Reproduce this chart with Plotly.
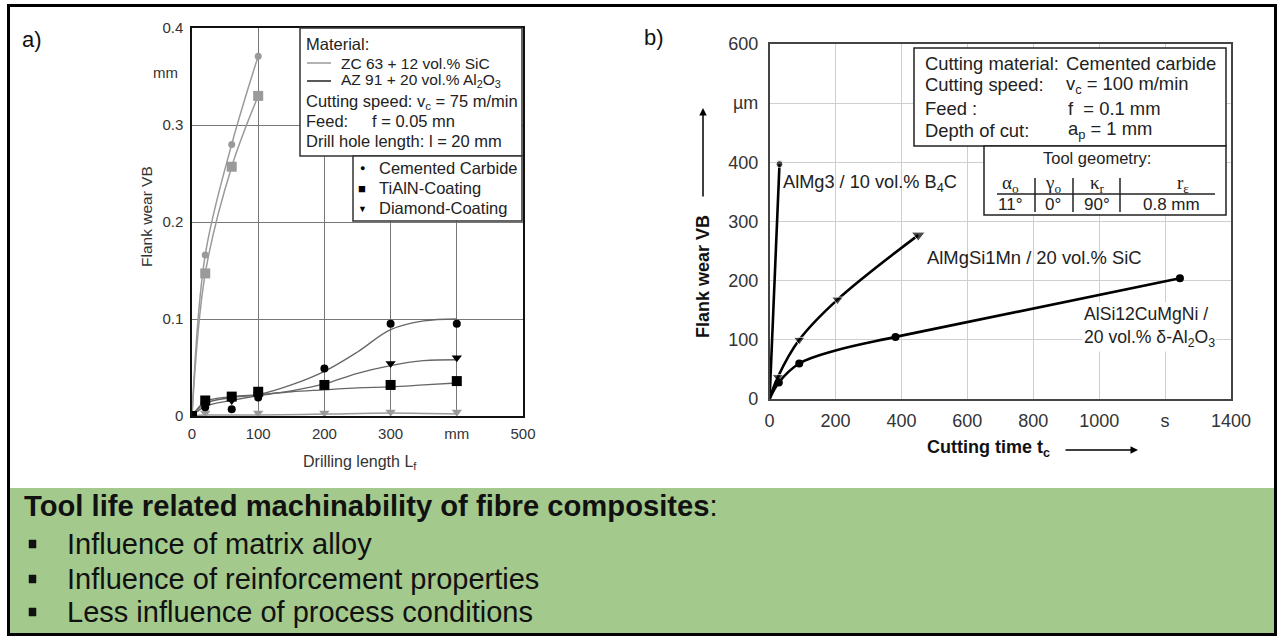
import plotly.graph_objects as go

# ---------------- data: chart a) drilling ----------------
# ZC 63 + 12 vol.% SiC (grey)
zc_x = [0, 20, 60, 100]
zc_cc_y = [0, 0.166, 0.280, 0.371]
zc_tialn_y = [0, 0.147, 0.257, 0.330]
zc_diam_x = [20, 100, 200, 300, 400]
zc_diam_y = [0.003, 0.003, 0.003, 0.004, 0.004]
zc_diam_fit_x = [0, 20, 100, 200, 300, 400]
zc_diam_fit_y = [0, 0.001, 0.001, 0.002, 0.003, 0.002]

# AZ 91 + 20 vol.% Al2O3 (black) measured points
az_x = [0, 20, 60, 100, 200, 300, 400]
az_cc_y = [0, 0.009, 0.007, 0.019, 0.049, 0.095, 0.095]
az_tialn_y = [0, 0.016, 0.020, 0.025, 0.032, 0.032, 0.036]
az_diam_x = [0, 20, 60, 100, 300, 400]
az_diam_y = [0, 0.012, 0.016, 0.022, 0.054, 0.060]
# smoothed curves
fit_x = [0, 20, 60, 100, 150, 200, 250, 300, 350, 400]
az_cc_fit = [0, 0.013, 0.019, 0.022, 0.032, 0.046, 0.066, 0.089, 0.098, 0.100]
az_diam_fit = [0, 0.010, 0.016, 0.021, 0.026, 0.033, 0.044, 0.052, 0.057, 0.058]
az_tialn_fit = [0, 0.015, 0.020, 0.022, 0.025, 0.027, 0.029, 0.030, 0.032, 0.034]

a_xticks = [0, 100, 200, 300, 400, 500]
a_xticktext = ["0", "100", "200", "300", "mm", "500"]
a_yticks = [0, 0.1, 0.2, 0.3, 0.4]
a_yticktext = ["0", "0.1", "0.2", "0.3", "0.4"]

# ---------------- data: chart b) turning ----------------
b4c_t = [0, 30]
b4c_vb = [0, 397]
sic_t = [0, 25, 90, 206, 451]
sic_vb = [0, 37, 100, 168, 277]
al2o3_t = [0, 28, 90, 200, 382, 1245]
al2o3_vb = [0, 28, 60, 82, 105, 204]
al2o3_mark_t = [28, 90, 382, 1245]
al2o3_mark_vb = [28, 60, 105, 204]

b_xticks = [0, 200, 400, 600, 800, 1000, 1200, 1400]
b_xticktext = ["0", "200", "400", "600", "800", "1000", "s", "1400"]
b_yticks = [0, 100, 200, 300, 400, 500, 600]
b_yticktext = ["0", "100", "200", "300", "400", "µm", "600"]

W, H = 1279, 638


def px(x):
    return x / W


def py(y):
    return 1 - y / H


FONT = "Liberation Sans, Arial, sans-serif"
SERIF = "Liberation Serif, Times New Roman, serif"
GREY = "#9a9a9a"

fig = go.Figure()

# chart a traces
fig.add_trace(go.Scatter(x=zc_x, y=zc_cc_y, mode="lines+markers", line=dict(color=GREY, width=1.5, shape="spline"),
                         marker=dict(symbol="circle", size=7, color=GREY), xaxis="x", yaxis="y"))
fig.add_trace(go.Scatter(x=zc_x, y=zc_tialn_y, mode="lines+markers", line=dict(color=GREY, width=1.5, shape="spline"),
                         marker=dict(symbol="square", size=10, color=GREY), xaxis="x", yaxis="y"))
fig.add_trace(go.Scatter(x=zc_diam_fit_x, y=zc_diam_fit_y, mode="lines", line=dict(color=GREY, width=1.5, shape="spline"),
                         xaxis="x", yaxis="y"))
fig.add_trace(go.Scatter(x=zc_diam_x, y=zc_diam_y, mode="markers",
                         marker=dict(symbol="triangle-down", size=9, color=GREY), xaxis="x", yaxis="y"))

for fy in (az_cc_fit, az_diam_fit, az_tialn_fit):
    fig.add_trace(go.Scatter(x=fit_x, y=fy, mode="lines", line=dict(color="#666", width=1.3, shape="spline"),
                             xaxis="x", yaxis="y"))
fig.add_trace(go.Scatter(x=az_x, y=az_cc_y, mode="markers", marker=dict(symbol="circle", size=8, color="black"),
                         xaxis="x", yaxis="y"))
fig.add_trace(go.Scatter(x=az_x, y=az_tialn_y, mode="markers", marker=dict(symbol="square", size=10, color="black"),
                         xaxis="x", yaxis="y"))
fig.add_trace(go.Scatter(x=az_diam_x, y=az_diam_y, mode="markers",
                         marker=dict(symbol="triangle-down", size=9, color="black"), xaxis="x", yaxis="y"))

# chart b traces
fig.add_trace(go.Scatter(x=b4c_t, y=b4c_vb, mode="lines+markers", line=dict(color="black", width=2.6),
                         marker=dict(symbol="circle", size=[0, 7], color="black"), xaxis="x2", yaxis="y2"))
fig.add_trace(go.Scatter(x=sic_t, y=sic_vb, mode="lines+markers", line=dict(color="black", width=2.6, shape="spline"),
                         marker=dict(symbol="triangle-down", size=[0, 10, 10, 10, 12], color="black"),
                         xaxis="x2", yaxis="y2"))
fig.add_trace(go.Scatter(x=al2o3_t, y=al2o3_vb, mode="lines", line=dict(color="black", width=2.6, shape="spline"),
                         xaxis="x2", yaxis="y2"))
fig.add_trace(go.Scatter(x=al2o3_mark_t, y=al2o3_mark_vb, mode="markers",
                         marker=dict(symbol="circle", size=8, color="black"), xaxis="x2", yaxis="y2"))

ax_common = dict(showline=True, mirror=True, ticks="", zeroline=False, showgrid=True, automargin=False)

fig.update_layout(
    template="none",
    width=W, height=H, margin=dict(l=0, r=0, t=0, b=0, pad=0, autoexpand=False),
    paper_bgcolor="white", plot_bgcolor="white", showlegend=False,
    font=dict(family=FONT, color="#222"),
    xaxis=dict(domain=[px(192), px(523)], range=[0, 500], tickvals=a_xticks, ticktext=a_xticktext,
               linecolor="#111", linewidth=1.5, gridcolor="#777", gridwidth=1,
               tickfont=dict(size=15, color="#333"), ticklabelstandoff=3, anchor="y", **ax_common),
    yaxis=dict(domain=[py(416), py(28)], range=[0, 0.4], tickvals=a_yticks, ticktext=a_yticktext,
               linecolor="#111", linewidth=1.5, gridcolor="#777", gridwidth=1,
               tickfont=dict(size=15, color="#333"), ticklabelstandoff=4, anchor="x", **ax_common),
    xaxis2=dict(domain=[px(769.6), px(1231)], range=[0, 1400], tickvals=b_xticks, ticktext=b_xticktext,
                linecolor="#444", linewidth=1.5, gridcolor="#cfcfcf", gridwidth=1,
                tickfont=dict(size=18, color="#333"), ticklabelstandoff=5, anchor="y2", **ax_common),
    yaxis2=dict(domain=[py(399), py(44)], range=[0, 600], tickvals=b_yticks, ticktext=b_yticktext,
                linecolor="#444", linewidth=1.5, gridcolor="#cfcfcf", gridwidth=1,
                tickfont=dict(size=18, color="#333"), ticklabelstandoff=6, anchor="x2", **ax_common),
)

shapes = []
ann = []


def A(text, x, y, size, xanchor="left", yanchor="middle", color="#222", family=FONT, **kw):
    ann.append(dict(text=text, x=px(x), y=py(y), xref="paper", yref="paper", xanchor=xanchor, yanchor=yanchor,
                    showarrow=False, font=dict(size=size, color=color, family=family), **kw))


def rect(x0, y0, x1, y1, line="black", width=1.5, fill="white", layer="above"):
    shapes.append(dict(type="rect", xref="paper", yref="paper", x0=px(x0), x1=px(x1), y0=py(y0), y1=py(y1),
                       line=dict(color=line, width=width), fillcolor=fill, layer=layer))


def seg(x0, y0, x1, y1, color="black", width=1.5):
    shapes.append(dict(type="line", xref="paper", yref="paper", x0=px(x0), x1=px(x1), y0=py(y0), y1=py(y1),
                       line=dict(color=color, width=width), layer="above"))


# green panel and outer frame
rect(9.5, 488, 1274.5, 633.5, line="rgba(0,0,0,0)", width=0, fill="#a3c98d", layer="below")
rect(8.5, 5.5, 1275.5, 634.5, line="black", width=3, fill="rgba(0,0,0,0)", layer="above")

# chart a) legend boxes
rect(300, 28, 522, 156, line="#333")
rect(353, 156, 522, 221, line="#333")
A("Material:", 304, 44, 16.5)
seg(307, 63, 331, 63, color=GREY, width=1.5)
seg(307, 81, 331, 81, color="#222", width=1.5)
A("ZC 63 + 12 vol.% SiC", 339, 63, 15.5)
A("AZ 91 + 20 vol.% Al<sub>2</sub>O<sub>3</sub>", 339, 81, 15.5)
A("Cutting speed: v<sub>c</sub> = 75 m/min", 304, 102, 16.5)
A("Feed:", 304, 121, 16.5)
A("f = 0.05 mn", 370, 121, 16.5)
A("Drill hole length: l = 20 mm", 304, 141, 16.5)
A("●", 362, 168, 9, xanchor="center", color="black")
A("■", 362, 188, 13, xanchor="center", color="black")
A("▼", 362, 209, 9, xanchor="center", color="black")
A("Cemented Carbide", 377, 168, 16.5)
A("TiAlN-Coating", 377, 188, 16.5)
A("Diamond-Coating", 377, 208, 16.5)

# chart a) axis labels
A("mm", 180, 73, 15, xanchor="right", color="#333")
A("Flank wear VB", 147, 217, 15.5, xanchor="center", color="#333", textangle=-90)
A("Drilling length L<sub>f</sub>", 360, 462, 16, xanchor="center", color="#333")
A("a)", 20, 39, 22, color="#111")

# chart b) legend boxes
rect(914, 48, 1226, 146, line="#222")
rect(984, 146, 1226, 215, line="#222")
A("Cutting material:", 923, 63, 18.4)
A("Cemented carbide", 1064, 63, 18.4)
A("Cutting speed:", 923, 85, 18.4)
A("v<sub>c</sub> = 100 m/min", 1064, 85, 18.4)
A("Feed :", 923, 108, 18.4)
A("f  = 0.1 mm", 1066, 108, 18.4)
A("Depth of cut:", 923, 130, 18.4)
A("a<sub>p</sub> = 1 mm", 1066, 130, 18.4)
A("Tool geometry:", 1097, 158, 16.5, xanchor="center")
for lab, xc in [("α<sub>o</sub>", 1010), ("γ<sub>o</sub>", 1053), ("κ<sub>r</sub>", 1097), ("r<sub>ε</sub>", 1183)]:
    A(lab, xc, 184, 19, xanchor="center", family=SERIF)
for lab, xc in [("11°", 1010), ("0°", 1053), ("90°", 1097), ("0.8 mm", 1171)]:
    A(lab, xc, 204, 17, xanchor="center")
seg(997, 194, 1215, 194, color="#222", width=1.5)
for xs in [1035, 1073, 1120]:
    seg(xs, 178, xs, 212, color="#222", width=1.5)

# chart b) curve labels
A("AlMg3 / 10 vol.% B<sub>4</sub>C", 781, 183, 18.2)
A("AlMgSi1Mn / 20 vol.% SiC", 925, 257, 18.4)
A("AlSi12CuMgNi /<br>20 vol.% δ-Al<sub>2</sub>O<sub>3</sub>", 1082, 327, 17.6, bgcolor="white", align="left")

# chart b) axis titles and arrows
A("<b>Flank wear VB</b>", 703, 277, 18, xanchor="center", color="#111", textangle=-90)
ann.append(dict(x=px(703), y=py(108), xref="paper", yref="paper", ax=0, ay=90, text="", showarrow=True,
                arrowhead=2, arrowsize=1, arrowwidth=1.5, arrowcolor="black"))
A("<b>Cutting time t<sub>c</sub></b>", 988, 448, 18, xanchor="center", color="#111")
ann.append(dict(x=px(1138), y=py(450), xref="paper", yref="paper", ax=-74, ay=0, text="", showarrow=True,
                arrowhead=2, arrowsize=1, arrowwidth=1.5, arrowcolor="black"))
A("b)", 642, 38, 22, color="#111")

# bottom text
A("<b>Tool life related machinability of fibre composites</b>:", 22, 506, 29.2, color="#111")
bullets = ["Influence of matrix alloy", "Influence of reinforcement properties", "Less influence of process conditions"]
for t, yy in zip(bullets, [544, 579, 612]):
    A(t, 65, yy, 29, color="#111")
    rect(29, yy - 4, 36, yy + 4, line="#111", width=0.5, fill="#111")

fig.update_layout(shapes=shapes, annotations=ann)

# remove the default 8px page margin so the figure fills the 1279x638 window exactly
page_fix = ("document.documentElement.style.margin='0';document.body.style.margin='0';"
            "document.body.style.padding='0';document.documentElement.style.overflow='hidden';"
            "document.body.style.overflow='hidden';")
fig.write_html("out.html", post_script=page_fix, config={"displayModeBar": False})
